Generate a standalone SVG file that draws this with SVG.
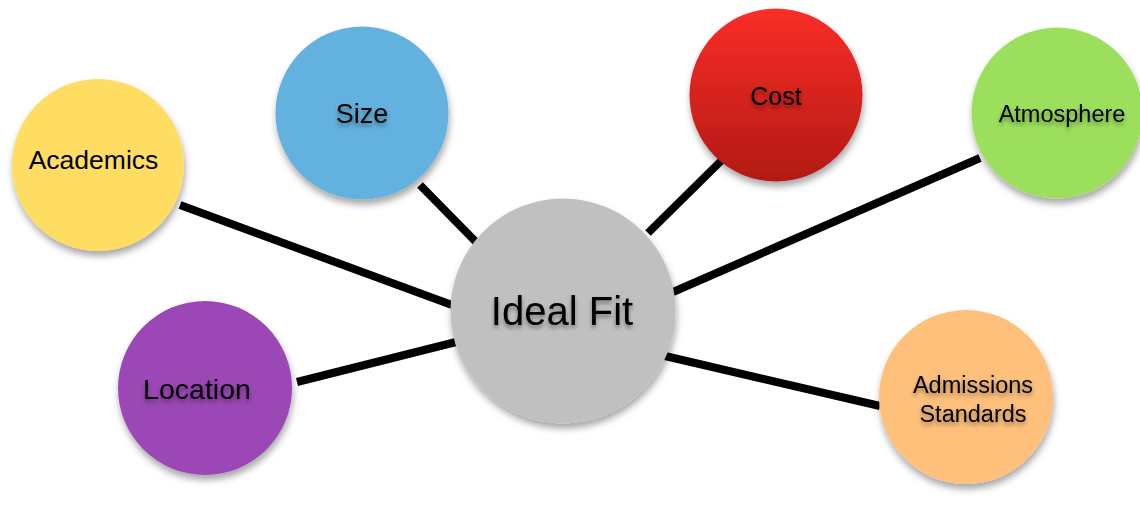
<svg xmlns="http://www.w3.org/2000/svg" width="1140" height="514" viewBox="0 0 1140 514">
<defs>
<linearGradient id="costGrad" x1="0" y1="0" x2="0" y2="1">
<stop offset="0" stop-color="#FA2E26"/>
<stop offset="1" stop-color="#B21916"/>
</linearGradient>
<filter id="shadow" x="-20%" y="-20%" width="140%" height="150%">
<feDropShadow dx="1" dy="5" stdDeviation="3.5" flood-color="#000" flood-opacity="0.35"/>
</filter>
<filter id="tshadow" x="-10%" y="-30%" width="120%" height="180%">
<feDropShadow dx="0" dy="3" stdDeviation="2" flood-color="#000" flood-opacity="0.4"/>
</filter>
</defs>
<style>
.edge{stroke:#000;stroke-width:8;fill:none;stroke-linecap:butt}
.node circle{filter:url(#shadow)}
text{font-family:"Liberation Sans",Arial,Helvetica,sans-serif;fill:#000;text-anchor:middle}
.ts{filter:url(#tshadow)}
</style>
<rect width="1140" height="514" fill="#fff"/>
<g id="connectors">
<line class="edge" x1="180" y1="205" x2="452" y2="305"/>
<line class="edge" x1="420" y1="185" x2="476" y2="242"/>
<line class="edge" x1="722" y1="160" x2="648" y2="233"/>
<line class="edge" x1="980" y1="158" x2="673" y2="292"/>
<line class="edge" x1="297" y1="382" x2="456" y2="342"/>
<line class="edge" x1="665" y1="356" x2="880" y2="406"/>
</g>
<g id="academics" class="node">
<circle cx="98" cy="165" r="86" fill="#FEDD62"/>
<text x="93.5" y="169" font-size="26.5">Academics</text>
</g>
<g id="size" class="node">
<circle cx="362" cy="113" r="86.5" fill="#62B1DE"/>
<text class="ts" x="362" y="123" font-size="27">Size</text>
</g>
<g id="cost" class="node">
<circle cx="776" cy="95" r="86.5" fill="url(#costGrad)"/>
<text class="ts" x="776" y="105" font-size="25">Cost</text>
</g>
<g id="atmosphere" class="node">
<circle cx="1057" cy="113" r="85.5" fill="#9CDF5C"/>
<text class="ts" x="1062" y="122" font-size="23.5">Atmosphere</text>
</g>
<g id="location" class="node">
<circle cx="205" cy="388" r="87" fill="#9B46B5"/>
<text class="ts" x="197" y="399" font-size="28.5">Location</text>
</g>
<g id="admissions" class="node">
<circle cx="966" cy="397" r="87" fill="#FEC07A"/>
<text class="ts" x="973" y="393" font-size="23.5">Admissions</text>
<text class="ts" x="973" y="422" font-size="23.5">Standards</text>
</g>
<g id="ideal-fit" class="node">
<circle cx="563" cy="311" r="112.5" fill="#C0C0C0"/>
<text class="ts" x="562" y="325" font-size="40">Ideal Fit</text>
</g>
</svg>
